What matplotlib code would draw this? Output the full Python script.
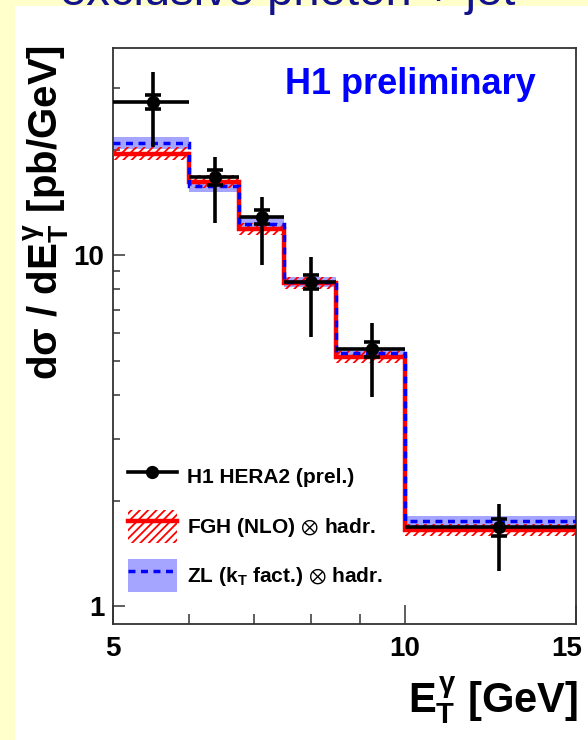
import matplotlib
matplotlib.use('Agg')
import matplotlib.pyplot as plt
import numpy as np
from matplotlib.patches import Patch, Rectangle
from matplotlib.lines import Line2D
from matplotlib.legend_handler import HandlerTuple
from matplotlib.ticker import FixedLocator, NullFormatter
from matplotlib.transforms import ScaledTranslation

plt.rcParams['font.family'] = ['Liberation Sans', 'DejaVu Sans']
plt.rcParams['mathtext.fontset'] = 'custom'
plt.rcParams['mathtext.rm'] = 'Liberation Sans:bold'
plt.rcParams['mathtext.it'] = 'Liberation Sans:bold'
plt.rcParams['mathtext.bf'] = 'Liberation Sans:bold'
plt.rcParams['mathtext.sf'] = 'Liberation Sans:bold'
plt.rcParams['mathtext.fallback'] = 'stixsans'
plt.rcParams['hatch.linewidth'] = 1.3

# ---------------- data ----------------
bin_edges = [5, 6, 6.75, 7.5, 8.5, 10, 15]
data_x = [5.5, 6.375, 7.125, 8.0, 9.25, 12.5]
data_y = [27.4, 16.7, 12.9, 8.4, 5.4, 1.68]
data_err_up = [5.9, 2.4, 1.8, 1.5, 1.0, 0.28]
data_err_dn = [7.0, 4.3, 3.5, 2.55, 1.46, 0.42]
data_stat = [1.3, 0.8, 0.6, 0.4, 0.26, 0.09]

fgh_y = [19.5, 16.2, 11.9, 8.34, 5.13, 1.65]
fgh_lo = [18.7, 15.6, 11.4, 8.0, 4.93, 1.59]
fgh_hi = [20.3, 16.9, 12.4, 8.7, 5.35, 1.72]

zl_y = [20.9, 15.8, 12.3, 8.4, 5.27, 1.75]
zl_lo = [20.1, 15.2, 11.8, 8.1, 5.08, 1.69]
zl_hi = [21.8, 16.4, 12.8, 8.7, 5.46, 1.81]

legend_labels = ['H1 HERA2 (prel.)',
                 r'FGH (NLO) $\otimes$ hadr.',
                 r'ZL (k$_T$ fact.) $\otimes$ hadr.']
x_ticks = [5, 10, 15]
x_ticklabels = ['5', '10', '15']
x_minor = [6, 7, 8, 9]
y_ticks = [1, 10]
y_ticklabels = ['1', '10']
y_minor = [2, 3, 4, 5, 6, 7, 8, 9, 20, 30]

# ---------------- figure ----------------
W, H = 588, 740
fig = plt.figure(figsize=(W / 100, H / 100), dpi=100)
fig.patch.set_facecolor('white')
yellow = '#FFFFCC'
fig.add_artist(Rectangle((0, 0), 15 / W, 1, transform=fig.transFigure,
                         facecolor=yellow, edgecolor='none', zorder=-10))
fig.add_artist(Rectangle((0, 1 - 6 / H), 1, 6 / H, transform=fig.transFigure,
                         facecolor=yellow, edgecolor='none', zorder=-10))
fig.text(60 / W, 1 - 5 / H, 'exclusive photon + jet', color='#12128c',
         fontsize=34, ha='left', va='baseline')

ax = fig.add_axes([112.5 / W, 1 - 624 / H, (576 - 112.5) / W, (624 - 48) / H])

# theory bands
ax.stairs(zl_hi, bin_edges, baseline=zl_lo, fill=True, facecolor='#a5a5ff',
          edgecolor='none', zorder=1)
ax.stairs(fgh_hi, bin_edges, baseline=fgh_lo, fill=True, facecolor='none',
          edgecolor='red', hatch='////', linewidth=0, zorder=2)
ax.stairs(fgh_y, bin_edges, baseline=None, color='red', linewidth=3.2, zorder=3)
ax.stairs(zl_y, bin_edges, baseline=None, color='blue', linewidth=2.5,
          linestyle=(0, (2, 1.6)), zorder=4)

# data
xlo = [x - e for x, e in zip(data_x, bin_edges[:-1])]
xhi = [e - x for x, e in zip(data_x, bin_edges[1:])]
ax.errorbar(data_x, data_y, xerr=[xlo, xhi], yerr=[data_err_dn, data_err_up],
            fmt='o', color='black', ms=8.5, elinewidth=2.6, capsize=0, zorder=6)
ax.errorbar(data_x, data_y, yerr=data_stat, fmt='none', ecolor='black',
            elinewidth=0, capsize=5.5, capthick=2.6, zorder=7)

ax.set_xscale('log')
ax.set_yscale('log')
ax.set_xlim(5, 15)
ax.set_ylim(0.89, 39)

ax.set_xticks(x_ticks, labels=x_ticklabels, fontsize=20, fontweight='bold')
ax.xaxis.set_minor_locator(FixedLocator(x_minor))
ax.xaxis.set_minor_formatter(NullFormatter())
ax.set_yticks(y_ticks, labels=y_ticklabels, fontsize=20, fontweight='bold')
ax.yaxis.set_minor_locator(FixedLocator(y_minor))
ax.yaxis.set_minor_formatter(NullFormatter())

ax.tick_params(axis='x', which='major', direction='in', length=14, width=1.1,
               pad=9, top=False, color='#333333')
ax.tick_params(axis='x', which='minor', direction='in', length=7, width=1.1,
               top=False, color='#333333')
ax.tick_params(axis='y', which='major', direction='in', length=8.6, width=1.1,
               pad=6, right=False, color='#333333')
ax.tick_params(axis='y', which='minor', direction='in', length=5, width=1.1,
               right=False, color='#333333')
for s in ax.spines.values():
    s.set_color('#333333')
    s.set_linewidth(1.3)

# shift the last x tick label slightly left so it stays inside the canvas
lbl15 = ax.get_xticklabels()[-1]
lbl15.set_transform(lbl15.get_transform() +
                    ScaledTranslation(-9 / 100, 0, fig.dpi_scale_trans))

# legend
h_data = Line2D([], [], color='black', lw=2.6, marker='o', ms=8.5)
h_fgh = (Patch(facecolor='none', edgecolor='red', hatch='////', lw=0),
         Line2D([], [], color='red', lw=3.2))
h_zl = (Patch(facecolor='#a5a5ff', edgecolor='none'),
        Line2D([], [], color='blue', lw=2.5, linestyle=(0, (2, 1.6))))
ax.legend([h_data, h_fgh, h_zl], legend_labels,
          handler_map={tuple: HandlerTuple(ndivide=1, pad=0)},
          loc='upper left', bbox_to_anchor=(128 / W, 1 - 460 / H),
          bbox_transform=fig.transFigure, frameon=False,
          prop={'weight': 'bold', 'size': 15}, handlelength=2.35,
          handleheight=2.06, handletextpad=0.48, labelspacing=0.8,
          borderpad=0, borderaxespad=0)

# texts
fig.text(285 / W, 1 - 94 / H, 'H1 preliminary', color='#0000ff', fontsize=26,
         fontweight='bold', ha='left', va='baseline')
fig.text(578 / W, 1 - 712 / H, r'$E_T^\gamma$ [GeV]', fontsize=30,
         fontweight='bold', ha='right', va='baseline')
fig.text(46 / W, 1 - 45 / H, r'd$\sigma$ / d$E_T^\gamma$ [pb/GeV]', fontsize=29,
         fontweight='bold', rotation=90, ha='center', va='top')

fig.savefig('out.png', dpi=100, facecolor=fig.get_facecolor())
